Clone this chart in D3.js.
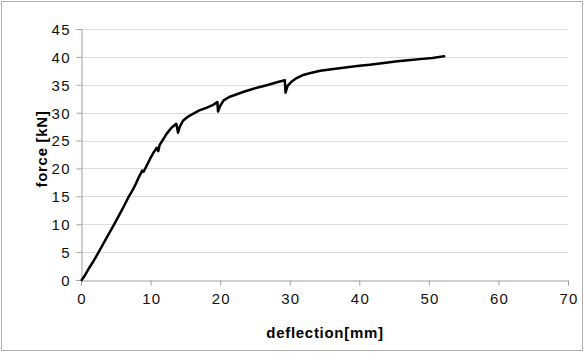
<!DOCTYPE html>
<html><head><meta charset="utf-8">
<script src="https://cdn.jsdelivr.net/npm/d3@7"></script>
<style>body{margin:0;background:#fff}svg{display:block}</style>
</head><body>
<script>
const deflection = [0.1,0.6,1.2,1.8,2.5,3.2,4.2,5.0,5.6,6.2,6.8,7.5,7.9,8.3,8.8,9.0,9.4,10.0,10.5,10.9,11.1,11.3,11.7,12.3,13.0,13.7,13.95,14.2,14.7,15.4,16.1,17.0,18.1,19.0,19.6,19.7,20.0,20.5,21.3,22.4,23.5,24.8,26.0,27.2,28.3,29.3,29.4,29.7,30.3,31.0,31.8,33.0,34.4,36.0,38.0,40.0,41.5,43.5,45.5,47.0,48.7,50.5,52.2];
const force = [0,0.9,2.2,3.4,4.9,6.5,8.7,10.5,11.9,13.3,14.8,16.3,17.3,18.4,19.6,19.4,20.4,21.9,23.0,23.7,23.1,24.2,25.0,26.2,27.3,28.0,26.4,27.5,28.6,29.3,29.8,30.4,30.9,31.4,31.9,30.2,31.2,32.2,32.8,33.3,33.8,34.3,34.7,35.1,35.5,35.8,33.6,34.8,35.6,36.2,36.7,37.1,37.5,37.8,38.1,38.4,38.6,38.9,39.2,39.4,39.6,39.8,40.1];
const xTicks = [0,10,20,30,40,50,60,70];
const yTicks = [0,5,10,15,20,25,30,35,40,45];
const xTitle = "deflection[mm]";
const yTitle = "force [kN]";

const W = 584, H = 353;
const svg = d3.select("body").append("svg").attr("width", W).attr("height", H);
svg.append("rect").attr("x",1.5).attr("y",1.5).attr("width",W-3).attr("height",H-4)
  .attr("fill","#fff").attr("stroke","#b0b0b0").attr("stroke-width",1);

const x = d3.scaleLinear().domain([0,70]).range([81,568]);
const y = d3.scaleLinear().domain([0,45]).range([280,29]);
const font = "'Liberation Sans', Arial, sans-serif";

// gridlines
svg.append("g").selectAll("line").data(yTicks.filter(d=>d>0)).join("line")
  .attr("x1",x(0)).attr("x2",x(70)).attr("y1",d=>Math.round(y(d))+0.5).attr("y2",d=>Math.round(y(d))+0.5)
  .attr("stroke","#dcdcdc").attr("stroke-width",1);

// axes
const xAxis = d3.axisBottom(x).tickValues(xTicks).tickSize(5).tickPadding(6).tickFormat(d3.format("d"));
const gx = svg.append("g").attr("transform",`translate(0,${Math.round(y(0))+0.5})`).call(xAxis);
const yAxis = d3.axisLeft(y).tickValues(yTicks).tickSize(5).tickPadding(7).tickFormat(d3.format("d"));
const gy = svg.append("g").attr("transform",`translate(${Math.round(x(0))+0.5},0)`).call(yAxis);
[gx,gy].forEach(g=>{
  g.select(".domain").attr("stroke","#a0a0a0");
  g.selectAll(".tick line").attr("stroke","#a0a0a0");
  g.selectAll(".tick text").attr("fill","#111").style("font-family",font).style("font-size","15px").style("letter-spacing","1.2px");
});
gx.selectAll(".tick text").attr("dy","0.8em").attr("dx","0.6px");
gy.selectAll(".tick text").attr("dx","1.2px").attr("dy","0.36em");

// line
const pts = deflection.map((d,i)=>[d, force[i]]);
svg.append("path").datum(pts)
  .attr("fill","none").attr("stroke","#000").attr("stroke-width",2.5).attr("stroke-linejoin","round").attr("stroke-linecap","round")
  .attr("d", d3.line().x(d=>x(d[0])).y(d=>y(d[1])));

// titles
svg.append("text").attr("x",325).attr("y",338).attr("text-anchor","middle")
  .style("font-family",font).style("font-size","15px").style("font-weight","bold").style("letter-spacing","0.7px")
  .text(xTitle);
svg.append("text").attr("transform",`translate(47,149) rotate(-90)`).attr("text-anchor","middle")
  .style("font-family",font).style("font-size","15px").style("font-weight","bold").style("letter-spacing","0.7px")
  .text(yTitle);
</script>
</body></html>
